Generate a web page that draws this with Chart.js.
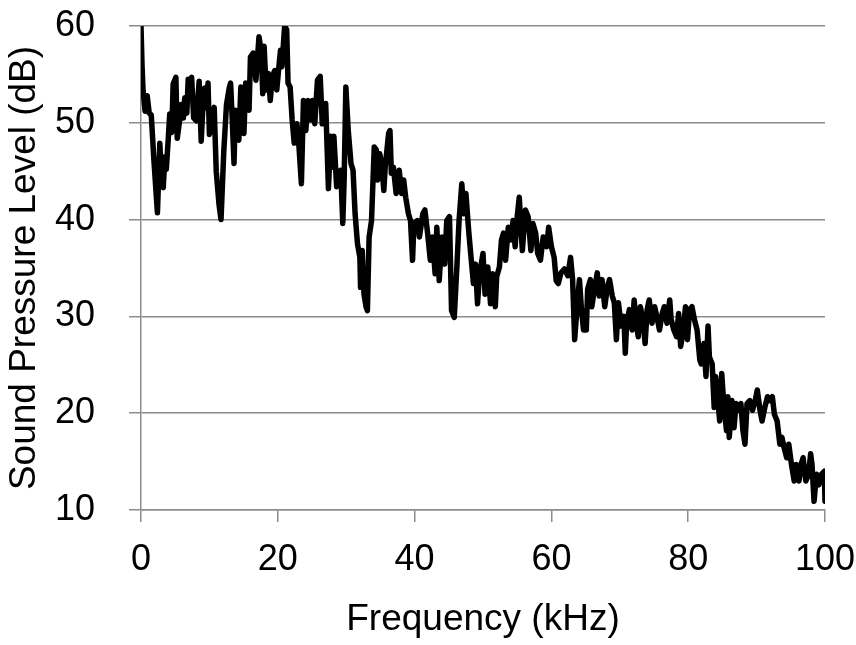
<!DOCTYPE html>
<html>
<head>
<meta charset="utf-8">
<script src="https://cdn.jsdelivr.net/npm/chart.js@4"></script>
<style>
  html, body { margin: 0; padding: 0; background: #fff; }
  #wrap { width: 856px; height: 645px; }
</style>
</head>
<body>
<div id="wrap"><canvas id="chart" width="856" height="645"></canvas></div>
<script>
const freq = [
  0.0, 0.15, 0.3, 0.6, 0.9, 1.2, 1.5, 1.9, 2.4, 2.75, 3.0, 3.25, 3.5, 3.7, 4.0, 4.2, 4.5, 4.7,
  5.1, 5.3, 5.6, 5.9, 6.2, 6.4, 6.7, 6.9, 7.2, 7.4, 7.7, 8.1, 8.5, 8.8, 9.0, 9.3, 9.6, 9.8,
  10.0, 10.3, 10.7, 11.0, 11.4, 11.7, 12.1, 12.5, 12.9, 13.1, 13.3, 13.6, 13.8, 14.3, 14.6,
  15.05, 15.3, 15.8, 16.0, 16.4, 16.8, 17.25, 17.6, 17.8, 18.0, 18.3, 18.6, 18.9, 19.2, 19.55,
  19.85, 20.2, 20.4, 20.6, 21.0, 21.3, 21.5, 21.8, 22.1, 22.4, 22.8, 23.1, 23.45, 23.75, 24.1,
  24.4, 24.8, 25.05, 25.4, 25.8, 26.2, 26.5, 27.0, 27.4, 27.75, 28.0, 28.2, 28.6, 29.2, 29.5,
  29.7, 29.95, 30.3, 30.7, 31.0, 31.3, 31.65, 32.0, 32.1, 32.35, 32.6, 32.9, 33.1, 33.35, 33.7,
  34.1, 34.4, 34.6, 34.9, 35.2, 35.5, 35.7, 36.2, 36.4, 36.6, 36.9, 37.3, 37.75, 38.1, 38.4,
  38.7, 39.1, 39.4, 39.7, 39.9, 40.4, 40.7, 41.2, 41.5, 41.9, 42.3, 42.6, 43.0, 43.25, 43.6,
  44.0, 44.4, 44.7, 45.1, 45.4, 45.8, 46.2, 46.5, 46.9, 47.2, 47.5, 47.9, 48.2, 48.6, 48.9,
  49.2, 49.5, 50.0, 50.3, 50.7, 51.1, 51.4, 51.8, 52.0, 52.4, 52.7, 53.0, 53.3, 53.7, 54.1,
  54.4, 54.7, 55.0, 55.3, 55.5, 55.75, 56.2, 56.6, 57.0, 57.3, 57.7, 58.0, 58.4, 58.8, 59.3,
  59.6, 60.0, 60.4, 60.7, 61.0, 61.4, 61.9, 62.4, 62.8, 63.1, 63.4, 63.8, 64.1, 64.4, 64.7,
  65.1, 65.3, 65.7, 65.9, 66.3, 66.7, 67.0, 67.4, 67.8, 68.2, 68.5, 68.9, 69.2, 69.5, 69.8,
  70.2, 70.6, 70.8, 71.0, 71.4, 71.8, 72.1, 72.4, 72.7, 73.0, 73.4, 73.7, 74.0, 74.3, 74.7,
  75.1, 75.5, 75.8, 76.2, 76.5, 76.9, 77.3, 77.5, 77.9, 78.3, 78.6, 78.9, 79.3, 79.6, 79.9,
  80.2, 80.55, 80.9, 81.3, 81.7, 81.9, 82.3, 82.6, 82.9, 83.1, 83.5, 83.8, 84.0, 84.3, 84.6,
  84.9, 85.2, 85.6, 85.8, 86.0, 86.4, 86.7, 87.0, 87.2, 87.7, 88.0, 88.3, 88.6, 89.0, 89.4,
  89.8, 90.1, 90.5, 90.8, 91.2, 91.6, 91.9, 92.3, 92.6, 93.0, 93.4, 93.7, 94.0, 94.4, 94.7,
  95.1, 95.5, 95.8, 96.2, 96.5, 96.8, 97.2, 97.6, 97.9, 98.1, 98.4, 98.75, 99.1, 99.5, 99.9, 100
];

const spl = [
  60, 56, 53.3, 51.2, 52.8, 51, 50.8, 46, 40.7, 47.9, 44, 43.3, 46.5, 45.2, 48.5, 50.9, 49, 54,
  54.7, 48.4, 50, 51.9, 50.5, 52.6, 51, 54.5, 52.5, 54.7, 50.5, 50.2, 54.3, 48.1, 51, 53.6, 51.5, 54.1,
  48.8, 50.5, 51.6, 45, 41.6, 40, 47, 51.9, 53.6, 54.1, 51, 45.8, 51.3, 48.2, 53.7,
  48.9, 54.1, 51.3, 56.8, 57.2, 54.4, 58.9, 57.2, 53, 57.9, 53.4, 55.1, 52.3, 54.8, 55.4,
  53.4, 56.1, 57.5, 55.8, 60, 59.6, 54.1, 53.7, 50.3, 47.9, 49.9, 47.5, 43.7, 52.3, 49.2,
  52.3, 50.3, 52.3, 49.9, 54.4, 54.8, 49.9, 52, 43.2, 48.6, 45.4, 48.6, 43.4, 45.1, 39.6,
  44.1, 53.7, 49.2, 45.8, 45.1, 40.6, 37.5, 36.1, 33, 36.8, 32.3, 31, 30.6, 38.2, 39.9,
  47.5, 47.2, 44.1, 46.8, 45.8, 43, 45.4, 48.9, 49.2, 44.8, 45.4, 42.7, 45.1, 42.7, 44.1,
  42.3, 40.6, 39.9, 35.8, 39.6, 39.9, 38.2, 40.6, 41, 38.6, 35.8, 38.2, 34.4, 39.2, 33.7,
  38.2, 35.4, 39.9, 40.3, 30.6, 29.9, 35.4, 39.9, 43.7, 40.6, 42.7, 38.9, 36.5, 33.4, 35.4,
  31.3, 34.4, 36.5, 32.3, 35.1, 31.3, 34.4, 31, 34.1, 35.1, 37.9, 38.6, 35.8, 39.2, 37.9,
  39.9, 37.2, 40.3, 42.3, 39.9, 36.8, 41, 40.3, 36.8, 39.6, 38.6, 36.5, 35.8, 38.2, 37.2,
  39.2, 37.2, 36.1, 33.7, 33.4, 34.5, 34.9, 34.2, 36.1, 33.8, 27.6, 31.4, 33.8, 30.7, 28.6,
  28.6, 32.8, 33.8, 31, 32.8, 34.5, 32.1, 33.8, 31, 33.1, 33.8, 32.1, 31.4, 27.6, 31.4,
  29, 30, 26.2, 29.3, 30.7, 28.6, 31.7, 29.3, 27.9, 31, 29.7, 27.2, 30.7, 31.7, 29.3,
  31, 29.7, 28.6, 30.3, 31, 29.3, 31.7, 29.7, 28.6, 27.9, 30.3, 26.9, 28.6, 31, 27.6,
  30.7, 31, 29.7, 28.6, 25.5, 25.1, 27.2, 23.8, 29, 25.8, 25.1, 20.6, 23.8, 21.7, 19.2,
  24.1, 21, 18.2, 21.7, 17.5, 21.3, 18.5, 21, 20.3, 21, 18.2, 16.8, 21, 21.3, 20.3,
  21.3, 22.4, 20.3, 19.2, 20.6, 21.7, 21.3, 21.7, 19.9, 19.2, 16.8, 17.5, 16.5, 15.4, 16.8,
  14.7, 13, 14.7, 13, 14.7, 15.4, 13, 13.7, 15.8, 14.7, 10.9, 13.7, 12.6, 13.7, 14, 10.9
];

const xTicks = [0, 20, 40, 60, 80, 100];
const yTicks = [10, 20, 30, 40, 50, 60];

const GRID = '#8c8c8c';
const FONT = "'Liberation Sans', Arial, sans-serif";

const points = freq.map((f, i) => ({ x: f, y: spl[i] }));

// chart.js adds tick padding to the label overflow padding; drop it so the
// layout padding alone decides where the plot area sits
function fitX(s) {
  s.height = 135;
  s.paddingLeft = 0;
  s.paddingRight = 0;
}
function fitY(s) {
  s.width = 141;
  s.paddingTop = 0;
  s.paddingBottom = 0;
}

new Chart(document.getElementById('chart'), {
  type: 'line',
  data: {
    datasets: [{
      data: points,
      borderColor: '#000',
      borderWidth: 5.5,
      borderJoinStyle: 'round',
      borderCapStyle: 'round',
      pointRadius: 0,
      tension: 0,
      fill: false
    }]
  },
  options: {
    responsive: false,
    animation: false,
    layout: { padding: { top: 26, right: 31, left: 0, bottom: 0 } },
    plugins: { legend: { display: false }, tooltip: { enabled: false } },
    scales: {
      x: {
        type: 'linear',
        min: xTicks[0],
        max: xTicks[xTicks.length - 1],
        afterBuildTicks: s => { s.ticks = xTicks.map(v => ({ value: v })); },
        afterFit: fitX,
        grid: { drawOnChartArea: false, tickLength: 12, tickColor: GRID, lineWidth: 1.5 },
        border: { color: GRID, width: 1.5 },
        ticks: { color: '#000', padding: 16, maxRotation: 0, font: { family: FONT, size: 36 } },
        title: {
          display: true,
          text: 'Frequency (kHz)',
          color: '#000',
          padding: { top: 0, bottom: 3 },
          font: { family: FONT, size: 37 }
        }
      },
      y: {
        min: yTicks[0],
        max: yTicks[yTicks.length - 1],
        afterBuildTicks: s => { s.ticks = yTicks.map(v => ({ value: v })); },
        afterFit: fitY,
        grid: { color: GRID, lineWidth: 1.5, tickLength: 12, tickColor: GRID },
        border: { color: GRID, width: 1.5 },
        ticks: { color: '#000', padding: 34, font: { family: FONT, size: 36 } },
        title: {
          display: true,
          text: 'Sound Pressure Level (dB)',
          color: '#000',
          padding: { top: 3, bottom: 0 },
          font: { family: FONT, size: 37 }
        }
      }
    }
  }
});
</script>
</body>
</html>
